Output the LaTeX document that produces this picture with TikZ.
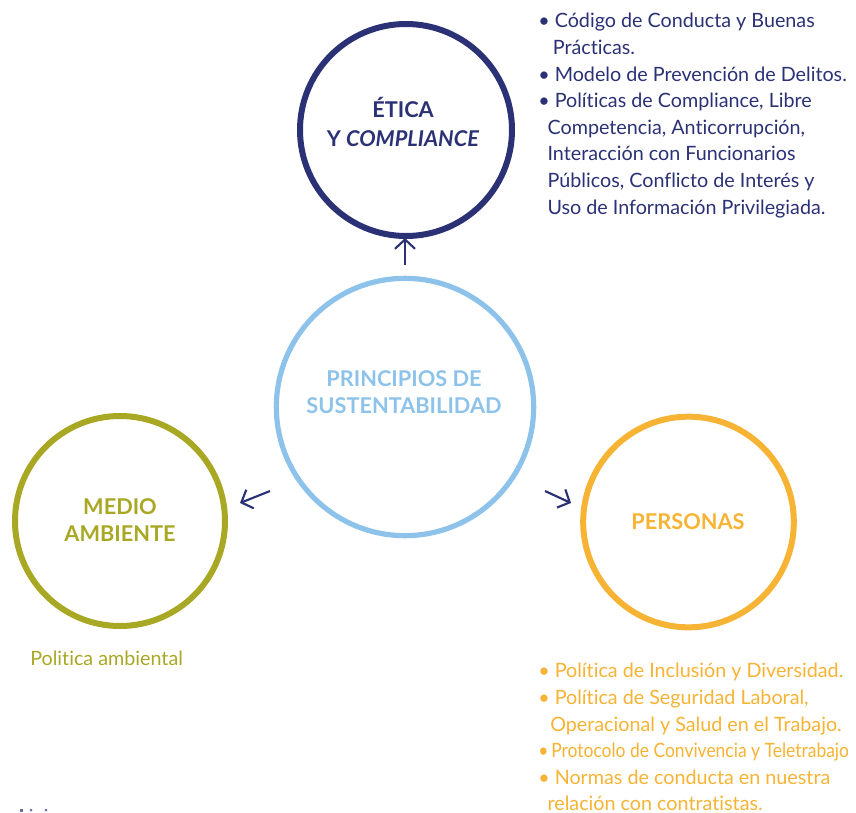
\documentclass[tikz,border=0pt]{standalone}
\usepackage{fontspec}
\setmainfont{Lato}[Ligatures=NoCommon]
\usetikzlibrary{arrows.meta}
\definecolor{navy}{HTML}{2B3175}
\definecolor{skyb}{HTML}{8DC3EA}
\definecolor{olive}{HTML}{A8A825}
\definecolor{orng}{HTML}{F7B334}
\tikzset{
  ring/.style={circle, line width=4.5pt, minimum size=#1, inner sep=0pt},
  head/.style={font=\fontsize{16.3}{20}\selectfont\bfseries, align=center},
  body/.style={font=\fontsize{14.8}{19.95}\selectfont, align=left, anchor=north west, inner sep=0pt},
  arr/.style={navy, line width=1.6pt, -{Straight Barb[length=7pt, width=15pt, line width=1.6pt]}}
}
\begin{document}
\begin{tikzpicture}[x=0.75pt,y=-0.75pt]
\useasboundingbox (0,0) rectangle (856,813);
% circles
\node[ring=159pt, draw=navy] (etica) at (406,130) {};
\node[ring=193pt, draw=skyb, line width=3.9pt] (princ) at (405,407) {};
\node[ring=157.5pt, draw=olive] (medio) at (120,521) {};
\node[ring=158pt, draw=orng] (pers) at (688.5,522) {};
% headings
\node[head, navy, font=\fontsize{16.3}{21.5}\selectfont\bfseries] (teti) at (403,122) {ÉTICA\\Y \textit{COMPLIANCE}};
\node[head, skyb] (tpri) at (404,392) {PRINCIPIOS DE\\SUSTENTABILIDAD};
\node[head, olive] (tmed) at (120,520) {MEDIO\\AMBIENTE};
\node[head, orng] (tper) at (688,522) {PERSONAS};
% arrows
\coordinate (a1s) at (405,265);
\coordinate (a1e) at (405,238);
\coordinate (a2s) at (270,491);
\coordinate (a2e) at (240,503);
\coordinate (a3s) at (545,491);
\coordinate (a3e) at (571,503);
\draw[arr] (a1s) -- (a1e);
\draw[arr] (a2s) -- (a2e);
\draw[arr] (a3s) -- (a3e);
% text blocks
\node[body, navy] (leti) at (538,13) {%
• Código de Conducta y Buenas\\
\hspace*{11pt}Prácticas.\\
• Modelo de Prevención de Delitos.\\
• Políticas de Compliance, Libre\\
\hspace*{7pt}Competencia, Anticorrupción,\\
\hspace*{7pt}Interacción con Funcionarios\\
\hspace*{7pt}Públicos, Conflicto de Interés y\\
\hspace*{7pt}Uso de Información Privilegiada.};
\node[body, olive] (lmed) at (30,651) {Politica ambiental};
\node[body, orng] (lper) at (538,663) {%
• Política de Inclusión y Diversidad.\\
• Política de Seguridad Laboral,\\
\hspace*{9pt}Operacional y Salud en el Trabajo.\\
\scalebox{0.885}[1]{•\,Protocolo de Convivencia y Teletrabajo}\\
• Normas de conducta en nuestra\\
\hspace*{7pt}relación con contratistas.};
% small dots
\fill[navy!70] (19.5,808.5) rectangle (22.5,811.5);
\fill[navy!70] (31,810) circle (1.5);
\fill[navy!70] (46,810) circle (1.5);
\end{tikzpicture}
\end{document}
